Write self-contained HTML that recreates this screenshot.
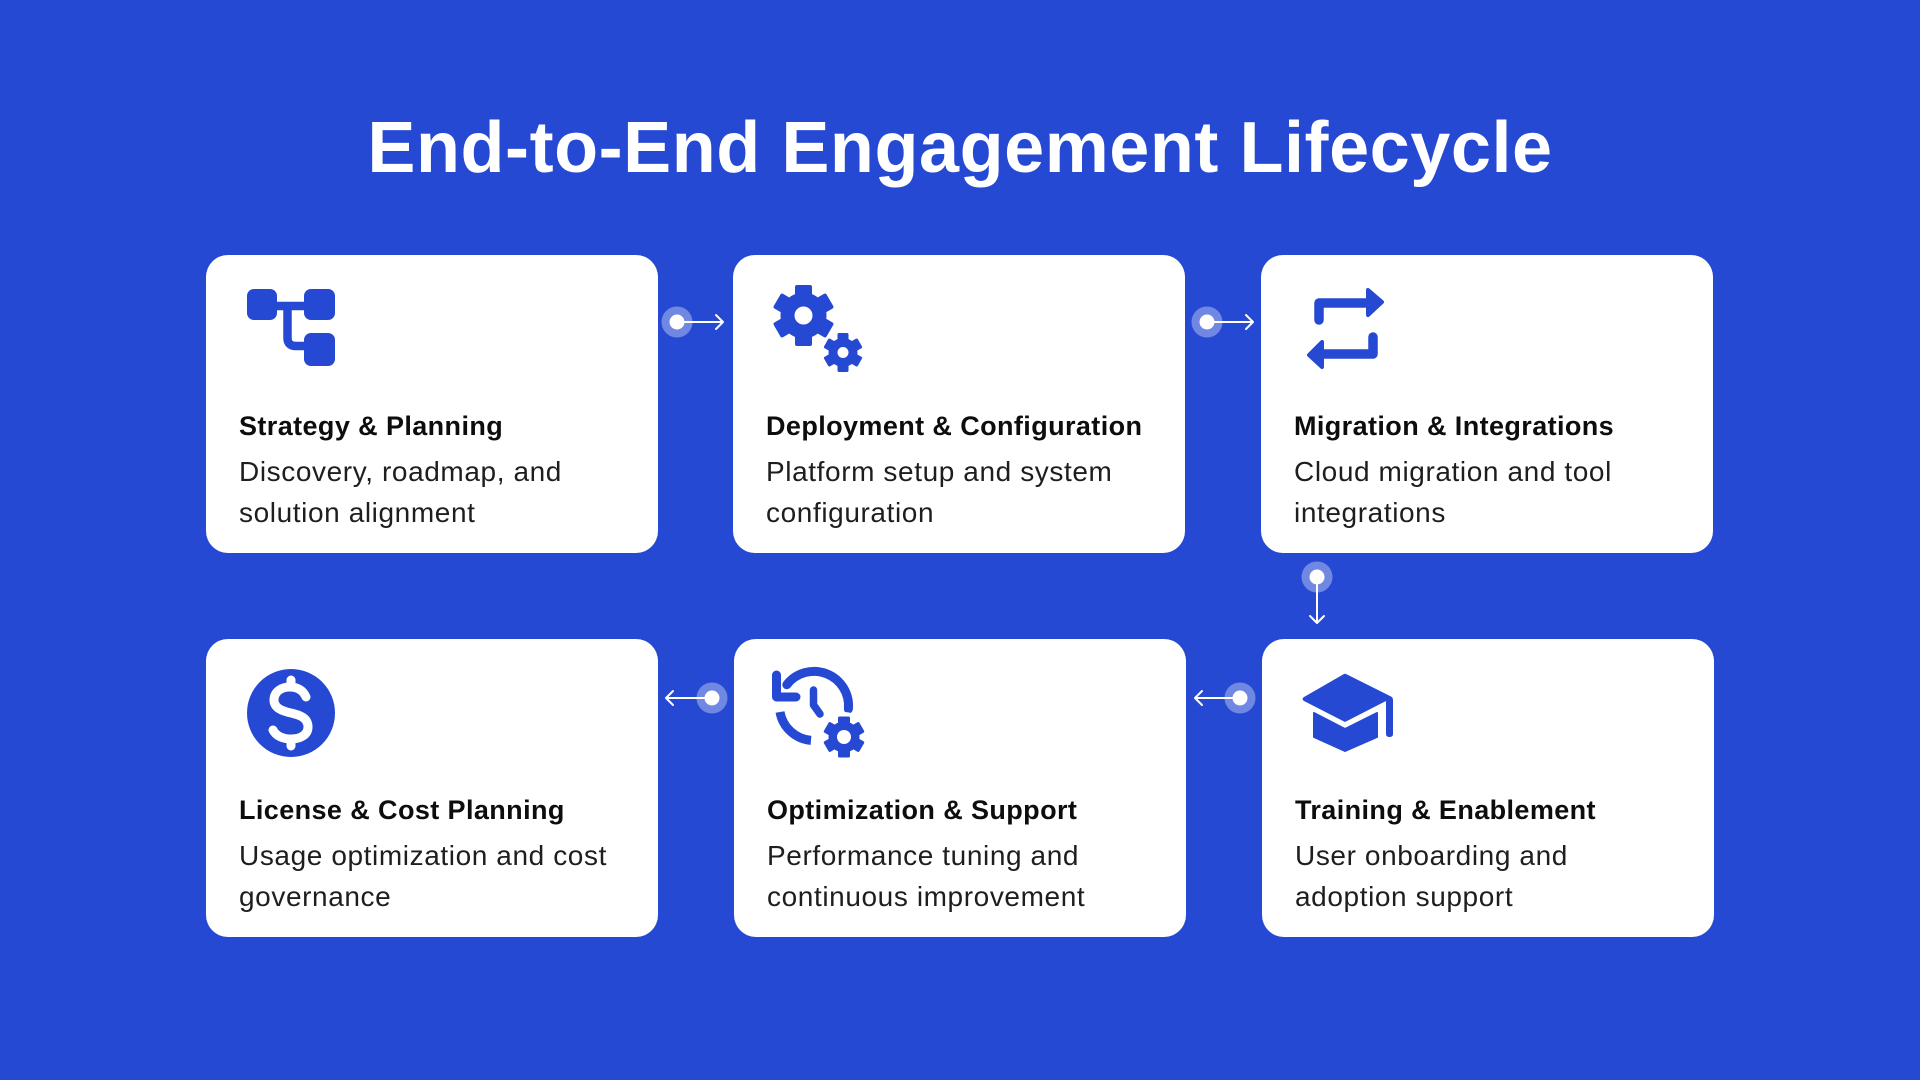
<!DOCTYPE html>
<html>
<head>
<meta charset="utf-8">
<style>
  html, body { margin:0; padding:0; }
  body { width:1920px; height:1080px; overflow:hidden; background:#2649D4; }
  #wrap { position:relative; width:1920px; height:1080px; background:#2649D4; font-family:"Liberation Sans", Arial, sans-serif; }
  .h1 { position:absolute; left:0; top:108px; width:1920px; text-align:center; color:#fff; font-weight:bold; font-size:72px; line-height:80px; letter-spacing:0.55px; white-space:nowrap; }
  .card { position:absolute; width:452px; height:298px; background:#fff; border-radius:22px; }
  .t { position:absolute; left:33px; top:154px; font-size:27px; line-height:34px; font-weight:bold; color:#0d0d0d; letter-spacing:0.4px; white-space:nowrap; }
  .d { position:absolute; left:33px; top:196px; font-size:28px; line-height:41px; color:#1e1e1e; letter-spacing:0.6px; white-space:nowrap; }
  svg.ov { position:absolute; left:0; top:0; }
</style>
</head>
<body>
<div id="wrap">
  <div class="h1">End-to-End Engagement Lifecycle</div>

  <div class="card" style="left:206px; top:255px;">
    <div class="t">Strategy &amp; Planning</div>
    <div class="d">Discovery, roadmap, and<br>solution alignment</div>
  </div>
  <div class="card" style="left:733px; top:255px;">
    <div class="t">Deployment &amp; Configuration</div>
    <div class="d">Platform setup and system<br>configuration</div>
  </div>
  <div class="card" style="left:1261px; top:255px;">
    <div class="t">Migration &amp; Integrations</div>
    <div class="d">Cloud migration and tool<br>integrations</div>
  </div>
  <div class="card" style="left:206px; top:639px;">
    <div class="t">License &amp; Cost Planning</div>
    <div class="d">Usage optimization and cost<br>governance</div>
  </div>
  <div class="card" style="left:734px; top:639px;">
    <div class="t">Optimization &amp; Support</div>
    <div class="d">Performance tuning and<br>continuous improvement</div>
  </div>
  <div class="card" style="left:1262px; top:639px;">
    <div class="t">Training &amp; Enablement</div>
    <div class="d">User onboarding and<br>adoption support</div>
  </div>

  <svg class="ov" width="1920" height="1080" viewBox="0 0 1920 1080" xmlns="http://www.w3.org/2000/svg">
    <!-- Icon 1: hierarchy -->
    <g fill="#2649D4">
      <rect x="247" y="289" width="30" height="31" rx="7"/>
      <rect x="304" y="289" width="31" height="31" rx="7"/>
      <rect x="304" y="333" width="31" height="33" rx="7"/>
    </g>
    <path d="M272,306 H308 M287.5,306 V338 Q287.5,346 296,346 H308" fill="none" stroke="#2649D4" stroke-width="8.5"/>

    <!-- Icon 2: gears -->
    <g fill="#2649D4" transform="translate(803.5,315.5)">
      <circle r="23"/>
      <rect x="-8.5" y="-30.5" width="17" height="61" rx="2"/>
      <rect x="-8.5" y="-30.5" width="17" height="61" rx="2" transform="rotate(60)"/>
      <rect x="-8.5" y="-30.5" width="17" height="61" rx="2" transform="rotate(120)"/>
      <circle r="9" fill="#fff"/>
    </g>
    <g fill="#2649D4" transform="translate(843,352.5)">
      <circle r="14.5"/>
      <rect x="-5.5" y="-19.5" width="11" height="39" rx="1.5"/>
      <rect x="-5.5" y="-19.5" width="11" height="39" rx="1.5" transform="rotate(60)"/>
      <rect x="-5.5" y="-19.5" width="11" height="39" rx="1.5" transform="rotate(120)"/>
      <circle r="5.5" fill="#fff"/>
    </g>

    <!-- Icon 3: repeat arrows -->
    <path d="M1319,320 V303 H1370" fill="none" stroke="#2649D4" stroke-width="9.5" stroke-linecap="round" stroke-linejoin="round"/>
    <polygon points="1368,290 1382,302 1368,315" fill="#2649D4" stroke="#2649D4" stroke-width="4" stroke-linejoin="round"/>
    <path d="M1373,337 V354 H1322" fill="none" stroke="#2649D4" stroke-width="9.5" stroke-linecap="round" stroke-linejoin="round"/>
    <polygon points="1322,342 1309,355 1322,367" fill="#2649D4" stroke="#2649D4" stroke-width="4" stroke-linejoin="round"/>

    <!-- Icon 4: dollar circle -->
    <circle cx="291" cy="713" r="44" fill="#2649D4"/>
    <path d="M306,697 C303,690 297,687 290,687 C281,687 274,692 274,700 C274,708 282,711 291,713 C300,715 308,718 308,727 C308,735 300,739 291,739 C283,739 276,736 273,730" fill="none" stroke="#fff" stroke-width="9" stroke-linecap="round"/>
    <path d="M291,680 V687 M291,739 V746" stroke="#fff" stroke-width="9" stroke-linecap="round"/>

    <!-- Icon 5: clock rotate with gear -->
    <path d="M786.8,684.7 A34.5,34.5 0 0 1 848.4,709" fill="none" stroke="#2649D4" stroke-width="9" stroke-linecap="round"/>
    <path d="M780,712 A34.5,34.5 0 0 0 811,740.4" fill="none" stroke="#2649D4" stroke-width="9" stroke-linecap="butt"/>
    <path d="M776.5,675 V697 H796" fill="none" stroke="#2649D4" stroke-width="9" stroke-linecap="round" stroke-linejoin="round"/>
    <path d="M813.5,690 V705 L820,714" fill="none" stroke="#2649D4" stroke-width="7.5" stroke-linecap="round" stroke-linejoin="round"/>
    <circle cx="844" cy="737" r="25" fill="#fff"/>
    <g fill="#2649D4" transform="translate(844,737)">
      <circle r="15.5"/>
      <rect x="-6" y="-20.5" width="12" height="41" rx="1.5"/>
      <rect x="-6" y="-20.5" width="12" height="41" rx="1.5" transform="rotate(60)"/>
      <rect x="-6" y="-20.5" width="12" height="41" rx="1.5" transform="rotate(120)"/>
      <circle r="7" fill="#fff"/>
    </g>

    <!-- Icon 6: graduation cap -->
    <path d="M1304,697 Q1301,699 1304,701 L1345,722 L1386,701 L1386,734 Q1386,737 1389.5,737 Q1393,737 1393,734 L1393,700 Q1393,697 1390,696 L1346,674 Q1345,673.5 1344,674 Z" fill="#2649D4"/>
    <path d="M1314,713 L1345,729 L1377,713 L1377,737 L1345,751 L1314,737 Z" fill="#2649D4" stroke="#2649D4" stroke-width="2" stroke-linejoin="round"/>

    <!-- Connectors -->
    <g>
      <circle cx="677" cy="322" r="15.5" fill="rgba(255,255,255,0.35)"/>
      <line x1="677" y1="322" x2="723" y2="322" stroke="#fff" stroke-width="2"/>
      <polyline points="716,315 723,322 716,329" fill="none" stroke="#fff" stroke-width="2" stroke-linecap="round" stroke-linejoin="round"/>
      <circle cx="677" cy="322" r="7.5" fill="#fff"/>

      <circle cx="1207" cy="322" r="15.5" fill="rgba(255,255,255,0.35)"/>
      <line x1="1207" y1="322" x2="1253" y2="322" stroke="#fff" stroke-width="2"/>
      <polyline points="1246,315 1253,322 1246,329" fill="none" stroke="#fff" stroke-width="2" stroke-linecap="round" stroke-linejoin="round"/>
      <circle cx="1207" cy="322" r="7.5" fill="#fff"/>

      <circle cx="1317" cy="577" r="15.5" fill="rgba(255,255,255,0.35)"/>
      <line x1="1317" y1="577" x2="1317" y2="623" stroke="#fff" stroke-width="2"/>
      <polyline points="1310,616 1317,623 1324,616" fill="none" stroke="#fff" stroke-width="2" stroke-linecap="round" stroke-linejoin="round"/>
      <circle cx="1317" cy="577" r="7.5" fill="#fff"/>

      <circle cx="1240" cy="698" r="15.5" fill="rgba(255,255,255,0.35)"/>
      <line x1="1240" y1="698" x2="1195" y2="698" stroke="#fff" stroke-width="2"/>
      <polyline points="1202,691 1195,698 1202,705" fill="none" stroke="#fff" stroke-width="2" stroke-linecap="round" stroke-linejoin="round"/>
      <circle cx="1240" cy="698" r="7.5" fill="#fff"/>

      <circle cx="712" cy="698" r="15.5" fill="rgba(255,255,255,0.35)"/>
      <line x1="712" y1="698" x2="666" y2="698" stroke="#fff" stroke-width="2"/>
      <polyline points="673,691 666,698 673,705" fill="none" stroke="#fff" stroke-width="2" stroke-linecap="round" stroke-linejoin="round"/>
      <circle cx="712" cy="698" r="7.5" fill="#fff"/>
    </g>
  </svg>
</div>
</body>
</html>
